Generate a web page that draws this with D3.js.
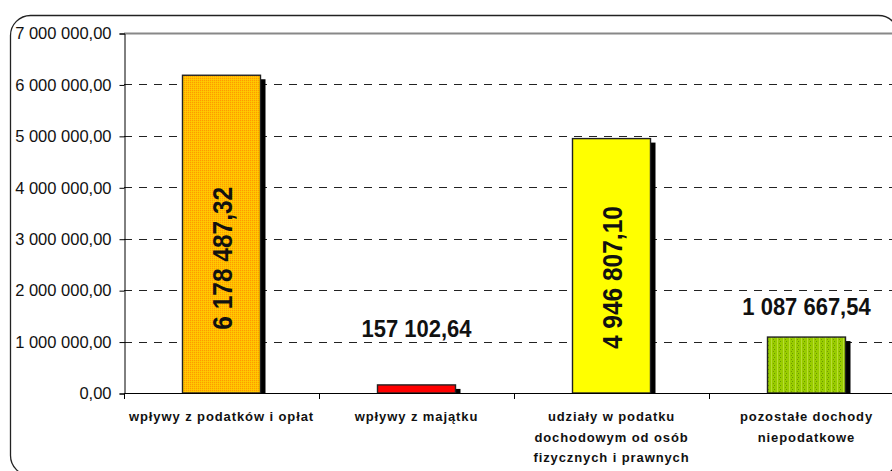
<!DOCTYPE html>
<html>
<head>
<meta charset="utf-8">
<script src="https://cdn.jsdelivr.net/npm/d3@7"></script>
<style>
  body { margin: 0; background: #fff; }
  svg { display: block; font-family: "Liberation Sans", Arial, sans-serif; }
  .cat { font-weight: bold; font-size: 13px; letter-spacing: 0.9px; fill: #111; }
  .ytick text { font-size: 16.5px; fill: #111; }
  .vlabel { font-weight: bold; fill: #111; }
</style>
</head>
<body>
<div id="chart"></div>
<script>
// categories (lines of each label)
const categories = [
  ["wpływy z podatków i opłat"],
  ["wpływy z majątku"],
  ["udziały w podatku", "dochodowym od osób", "fizycznych i prawnych"],
  ["pozostałe dochody", "niepodatkowe"]
];
const values = [6178487.32, 157102.64, 4946807.10, 1087667.54];
const yTicks = [0, 1000000, 2000000, 3000000, 4000000, 5000000, 6000000, 7000000];

// look
const barFills = ["url(#pOrange)", "#ff0000", "#ffff00", "url(#pGreen)"];
const labelRotated = [true, false, true, false];
const labelShift = [183, -48, 139, -22];   // label offset from bar top, px

const width = 892, height = 471;
const plot = {left: 124, right: 904, top: 33, bottom: 393};

const svg = d3.select("#chart").append("svg")
    .attr("width", width)
    .attr("height", height);

// patterns for the textured bars
const defs = svg.append("defs");
const po = defs.append("pattern").attr("id", "pOrange")
    .attr("patternUnits", "userSpaceOnUse").attr("width", 2).attr("height", 2);
po.append("rect").attr("width", 2).attr("height", 2).attr("fill", "#ffc000");
po.append("rect").attr("width", 1).attr("height", 1).attr("fill", "#ff9900");
po.append("rect").attr("x", 1).attr("y", 1).attr("width", 1).attr("height", 1).attr("fill", "#ffcc00");

const pg = defs.append("pattern").attr("id", "pGreen")
    .attr("patternUnits", "userSpaceOnUse").attr("width", 6).attr("height", 4);
pg.append("rect").attr("width", 6).attr("height", 4).attr("fill", "#99cc00");
pg.append("rect").attr("x", 3).attr("width", 1).attr("height", 4).attr("fill", "#b8dd33");
pg.append("rect").attr("x", 0).attr("y", 1).attr("width", 1).attr("height", 1).attr("fill", "#669900");
pg.append("rect").attr("x", 5).attr("y", 3).attr("width", 1).attr("height", 1).attr("fill", "#779a00");

// outer rounded frame (cut by the window on the right and bottom)
svg.append("rect")
    .attr("x", 10.5).attr("y", 15.5)
    .attr("width", 888).attr("height", 460)
    .attr("rx", 20).attr("ry", 20)
    .attr("fill", "none")
    .attr("stroke", "#222")
    .attr("stroke-width", 1.3);

//Set up scales
const x = d3.scaleBand()
    .domain(d3.range(categories.length))
    .range([plot.left, plot.right])
    .paddingInner(0.6)
    .paddingOuter(0.3);
const y = d3.scaleLinear()
    .domain([0, 7000000])
    .range([plot.bottom, plot.top]);

const fmt = v => d3.format(",.2f")(v).replace(/,/g, " ").replace(".", ",");

// gridlines
svg.append("g").selectAll("line")
    .data(yTicks.filter(d => d > 0))
    .join("line")
    .attr("x1", plot.left).attr("x2", plot.right)
    .attr("y1", d => Math.round(y(d)) + 0.5).attr("y2", d => Math.round(y(d)) + 0.5)
    .attr("stroke", d => d === 7000000 ? "#888" : "#222")
    .attr("stroke-width", d => d === 7000000 ? 2 : 1)
    .attr("stroke-dasharray", d => d === 7000000 ? null : "8,7");

// y axis
const yAxis = svg.append("g")
    .attr("class", "ytick")
    .attr("transform", "translate(" + (plot.left + 0.5) + ",0.5)")
    .call(d3.axisLeft(y).tickValues(yTicks).tickFormat(fmt).tickSize(5).tickPadding(8));
yAxis.select(".domain").attr("stroke", "#000");
yAxis.selectAll(".tick line").attr("stroke", "#000");
yAxis.selectAll("text").attr("font-family", null);

// bars: shadow then bar
const bars = svg.append("g");
bars.selectAll("rect.shadow")
    .data(values)
    .join("rect")
    .attr("class", "shadow")
    .attr("x", (d, i) => x(i) + 5)
    .attr("y", d => y(d) + 4)
    .attr("width", x.bandwidth())
    .attr("height", d => Math.max(0, y(0) - y(d) - 4))
    .attr("fill", "#000");
bars.selectAll("rect.bar")
    .data(values)
    .join("rect")
    .attr("class", "bar")
    .attr("x", (d, i) => x(i))
    .attr("y", d => y(d))
    .attr("width", x.bandwidth())
    .attr("height", d => y(0) - y(d))
    .attr("fill", (d, i) => barFills[i])
    .attr("stroke", "#222")
    .attr("stroke-width", 1.4);

// x axis
svg.append("line")
    .attr("x1", plot.left).attr("x2", plot.right)
    .attr("y1", plot.bottom + 0.5).attr("y2", plot.bottom + 0.5)
    .attr("stroke", "#000");
const step = x.step();
svg.append("g").selectAll("line")
    .data(d3.range(categories.length + 1))
    .join("line")
    .attr("x1", i => Math.round(plot.left + i * step) + 0.5)
    .attr("x2", i => Math.round(plot.left + i * step) + 0.5)
    .attr("y1", plot.bottom).attr("y2", plot.bottom + 6)
    .attr("stroke", "#000");

// category labels
const cats = svg.append("g").selectAll("text")
    .data(categories)
    .join("text")
    .attr("class", "cat")
    .attr("text-anchor", "middle")
    .attr("transform", (d, i) => "translate(" + (x(i) + x.bandwidth() / 2) + "," + (plot.bottom + 28) + ")");
cats.selectAll("tspan")
    .data(d => d)
    .join("tspan")
    .attr("x", 0)
    .attr("y", (d, j) => j * 20.5)
    .text(d => d);

// value labels
svg.append("g").selectAll("text")
    .data(values)
    .join("text")
    .attr("class", "vlabel")
    .attr("text-anchor", "middle")
    .attr("dominant-baseline", (d, i) => labelRotated[i] ? "central" : "alphabetic")
    .attr("font-size", (d, i) => labelRotated[i] ? 24.5 : 22)
    .attr("transform", (d, i) => {
        const cx = x(i) + x.bandwidth() / 2;
        const cy = y(d) + labelShift[i];
        return labelRotated[i]
            ? "translate(" + (cx + 1) + "," + cy + ") rotate(-90) scale(1,1.12)"
            : "translate(" + cx + "," + cy + ") scale(1,1.08)";
    })
    .text(d => fmt(d));
</script>
</body>
</html>
